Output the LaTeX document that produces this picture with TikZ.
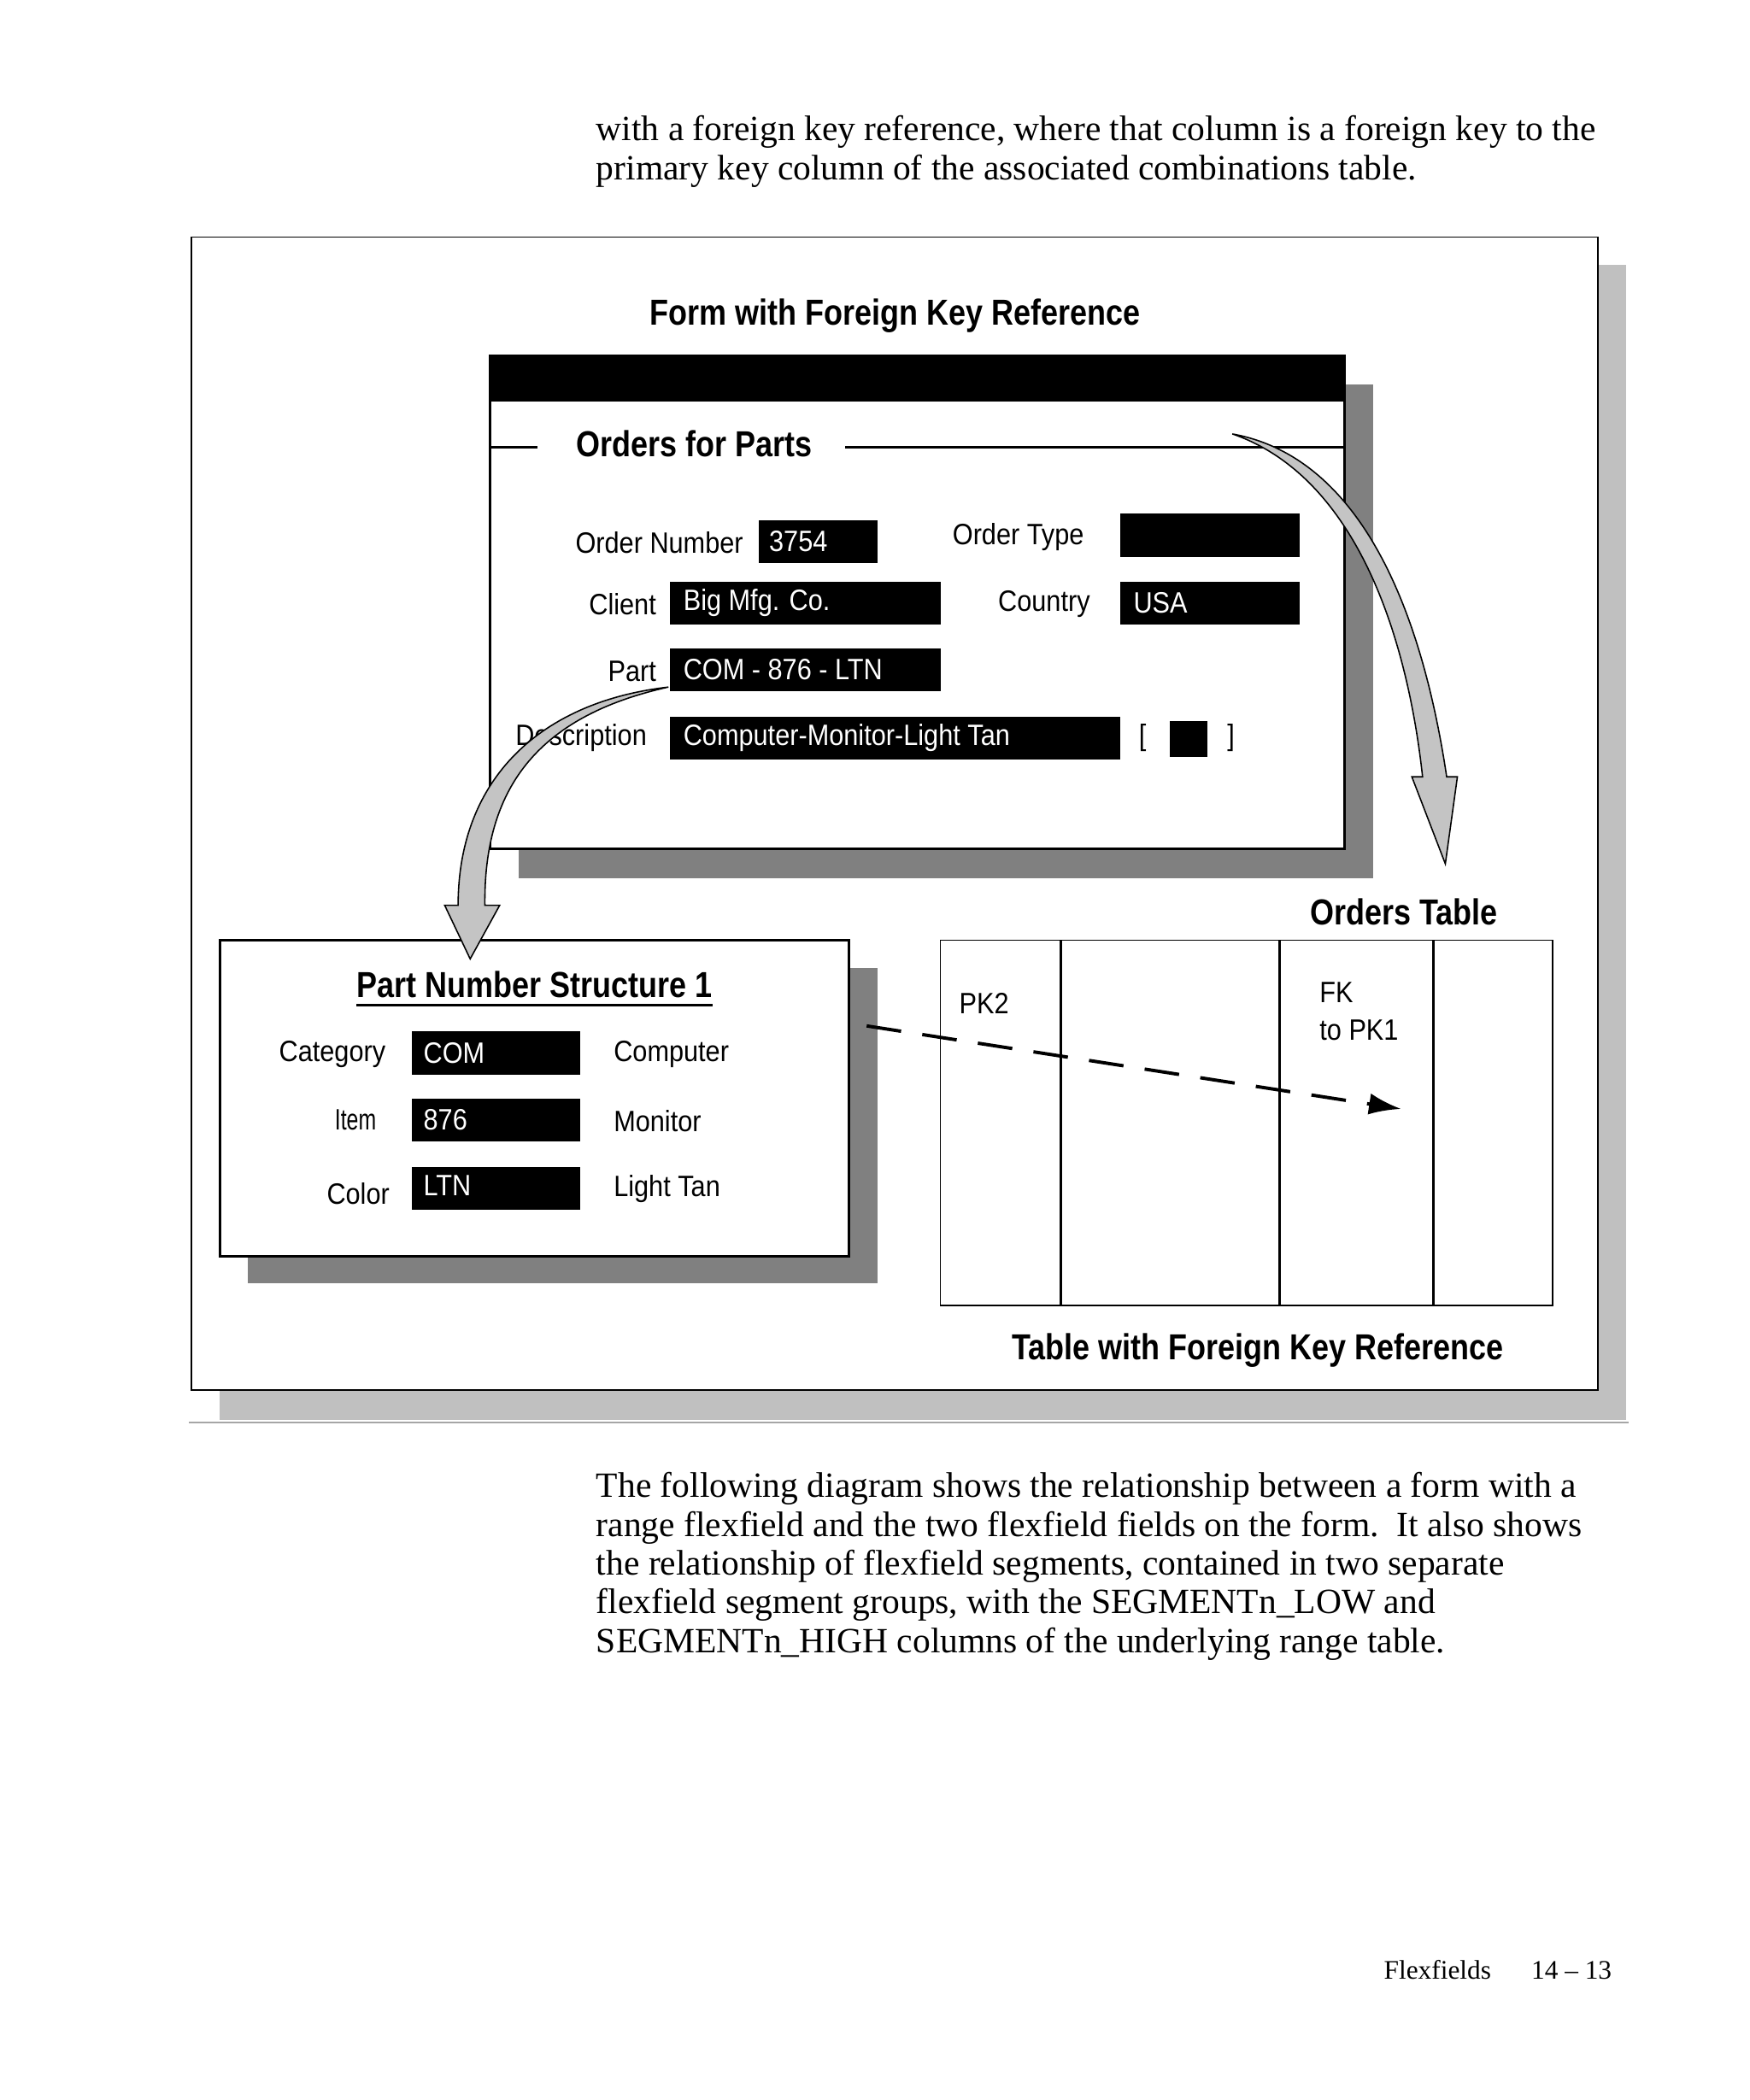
\documentclass[tikz,border=0pt]{standalone}
\usepackage{fontspec}
\setmainfont{Liberation Serif}
\newfontfamily\lbfam[FakeStretch=0.89]{Liberation Sans}
\newfontfamily\itemfam[FakeStretch=0.72]{Liberation Sans}
\newfontfamily\hdfam[FakeStretch=0.85]{Liberation Sans}
\newcommand\mylabel{\lbfam\fontsize{22}{26}\selectfont}
\newcommand\myhead{\hdfam\bfseries\fontsize{27}{32}\selectfont}
\newcommand\mybody{\rmfamily\fontsize{26.5}{29}\selectfont}
\usetikzlibrary{arrows.meta,calc}
\definecolor{lightshadow}{HTML}{C0C0C0}
\definecolor{darkshadow}{HTML}{808080}
\definecolor{arrowgray}{HTML}{C4C4C4}
\tikzset{
  fld/.style={fill=black,draw=none,inner sep=0pt,rectangle,anchor=north west},
  ftxt/.style={text=white,font=\mylabel,inner sep=0pt,anchor=west},
  lbl/.style={font=\mylabel,inner sep=0pt},
  hdg/.style={font=\myhead,inner sep=0pt},
  bodytxt/.style={font=\mybody,inner sep=0pt,anchor=base west},
  curvearrow/.style={fill=arrowgray,draw=black,line width=1pt,line join=miter},
}
\begin{document}
\begin{tikzpicture}[x=1pt,y=-1pt]
\useasboundingbox (0,0) rectangle (1306,1568);
\fill[white] (0,0) rectangle (1306,1568);
% top text
\node[bodytxt] (t1) at (445,105) {with a foreign key reference, where that column is a foreign key to the};
\node[bodytxt] (t2) at (445,134) {primary key column of the associated combinations table.};
% outer frame
\fill[lightshadow] (164,198) rectangle (1214,1060);
\draw[fill=white,line width=1.2pt] (143,177) rectangle (1193,1038);
\draw[darkshadow!70,line width=1.2pt] (141,1062) -- (1216,1062);
\node[hdg] (formtitle) at (668,236) {Form with Foreign Key Reference};
% form window
\fill[darkshadow] (387,287) rectangle (1025,656);
\draw[fill=white,line width=2pt] (366,266) rectangle (1004,634);
\fill[black] (366,266) rectangle (1004,300);
\draw[line width=2pt] (366,334) -- (401,334);
\draw[line width=2pt] (631,334) -- (1004,334);
\node[hdg,anchor=west] (ofp) at (430,331) {Orders for Parts};
% fields
\node[lbl,anchor=east] (lon) at (555,405) {Order Number};
\node[fld,minimum width=89pt,minimum height=32pt] (bon) at (566,388) {};
\node[ftxt] at ($(bon.west)+(8,0)$) {3754};
\node[lbl,anchor=west] (lot) at (711,401) {Order Type};
\node[fld,minimum width=134pt,minimum height=33pt] (bot) at (836,383) {};
\node[lbl,anchor=east] (lcl) at (490,451) {Client};
\node[fld,minimum width=202pt,minimum height=32pt] (bcl) at (500,434) {};
\node[ftxt] at ($(bcl.west)+(10,0)$) {Big Mfg. Co.};
\node[lbl,anchor=west] (lco) at (745,451) {Country};
\node[fld,minimum width=134pt,minimum height=32pt] (bco) at (836,434) {};
\node[ftxt] at ($(bco.west)+(10,0)$) {USA};
\node[lbl,anchor=east] (lpa) at (490,501) {Part};
\node[fld,minimum width=202pt,minimum height=32pt] (bpa) at (500,484) {};
\node[ftxt] at ($(bpa.west)+(10,0)$) {COM - 876 - LTN};
\node[lbl,anchor=east] (lde) at (483,551) {Description};
\node[fld,minimum width=336pt,minimum height=32pt] (bde) at (500,535) {};
\node[ftxt] at ($(bde.west)+(10,0)$) {Computer-Monitor-Light Tan};
\node[lbl] (lbr) at (853,551) {[};
\node[fld,minimum width=28pt,minimum height=27pt] (bchk) at (873,538) {};
\node[lbl] (rbr) at (919,551) {]};
% part number structure
\fill[darkshadow] (185,723) rectangle (655,958);
\draw[fill=white,line width=2pt] (164,702) rectangle (634,938);
\node[hdg] (pns) at (399,735) {Part Number Structure 1};
\draw[line width=2pt] ($(pns.base west)+(0,6)$) -- ($(pns.base east)+(0,6)$);
\node[lbl,anchor=east] (lcat) at (288,787) {Category};
\node[fld,minimum width=126pt,minimum height=32pt] (bcat) at (307,770) {};
\node[ftxt] at ($(bcat.west)+(9,0)$) {COM};
\node[lbl,anchor=west] at (458,787) {Computer};
\node[lbl,anchor=east] (litem) at (281,836) {\itemfam\fontsize{22}{26}\selectfont Item};
\node[fld,minimum width=126pt,minimum height=32pt] (bitem) at (307,820) {};
\node[ftxt] at ($(bitem.west)+(9,0)$) {876};
\node[lbl,anchor=west] at (458,837) {Monitor};
\node[lbl,anchor=east] (lcol) at (291,891) {Color};
\node[fld,minimum width=126pt,minimum height=32pt] (bcol) at (307,871) {};
\node[ftxt] at ($(bcol.west)+(9,-2)$) {LTN};
\node[lbl,anchor=west] at (458,888) {Light Tan};
% orders table
\node[hdg] (otitle) at (1048,681) {Orders Table};
\draw[line width=1.2pt] (702,702) rectangle (1159,975);
\foreach \cx in {792,955,1070} \draw[line width=2pt] (\cx,702) -- (\cx,975);
\node[lbl,anchor=west] (pk2) at (716,749) {PK2};
\node[lbl,anchor=west] (fk) at (985,741) {FK};
\node[lbl,anchor=west] (fk2) at (985,769) {to PK1};
\node[hdg] (ttitle) at (939,1008) {Table with Foreign Key Reference};
% dashed arrow
\coordinate (dstart) at (647,766);
\coordinate (dend) at (1046,828);
\draw[line width=2.5pt,dash pattern=on 26pt off 16pt,-{Latex[length=24pt,width=16pt]}] (dstart) -- (dend);
% curved arrows
\draw[curvearrow] (499,513) .. controls (404,524) and (342,581) .. (342,676)
  -- (332,676) -- (351,716) -- (373,676) -- (362,676)
  .. controls (361,590) and (400,535) .. (499,513) -- cycle;
\draw[curvearrow] (920,324) .. controls (1030,344) and (1066.5,490) .. (1080,580)
  -- (1088,580) -- (1079,645) -- (1054,580) -- (1062,580)
  .. controls (1050,470) and (1010,355) .. (920,324) -- cycle;
% bottom text
\node[bodytxt] (b1) at (445,1118) {The following diagram shows the relationship between a form with a};
\node[bodytxt] (b2) at (445,1147) {range flexfield and the two flexfield fields on the form.\ \ It also shows};
\node[bodytxt] (b3) at (445,1176) {the relationship of flexfield segments, contained in two separate};
\node[bodytxt] (b4) at (445,1205) {flexfield segment groups, with the SEGMENTn\_LOW and};
\node[bodytxt] (b5) at (445,1234) {SEGMENTn\_HIGH columns of the underlying range table.};
% footer
\node[font=\rmfamily\fontsize{20}{24}\selectfont,inner sep=0pt,anchor=base west] (f1) at (1033,1478) {Flexfields};
\node[font=\rmfamily\fontsize{20}{24}\selectfont,inner sep=0pt,anchor=base west] (f2) at (1143,1478) {14 -- 13};
\end{tikzpicture}
\end{document}
